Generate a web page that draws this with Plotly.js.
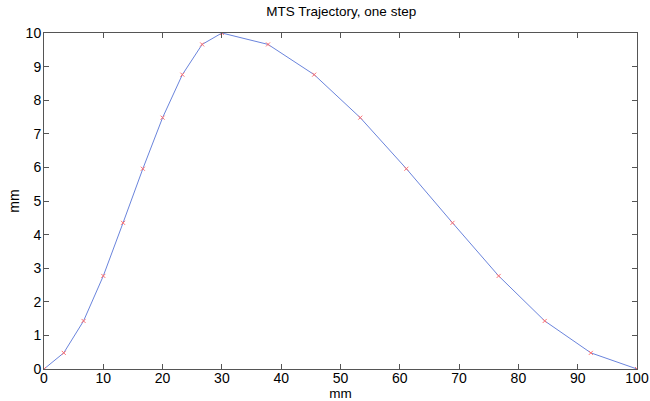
<!DOCTYPE html>
<html>
<head>
<meta charset="utf-8">
<script src="https://cdn.plot.ly/plotly-3.0.1.min.js"></script>
<style>html,body{margin:0;padding:0;background:#fff;}#chart{width:650px;height:401px;}</style>
</head>
<body>
<div id="chart"></div>
<script>
const xValues = [0, 3.33, 6.67, 10, 13.33, 16.67, 20, 23.33, 26.67, 30, 37.78, 45.56, 53.33, 61.11, 68.89, 76.67, 84.44, 92.22, 100];
const yValues = [0, 0.48, 1.43, 2.77, 4.35, 5.96, 7.48, 8.76, 9.66, 10, 9.66, 8.76, 7.48, 5.96, 4.35, 2.77, 1.43, 0.48, 0];
const xTicks = [0, 10, 20, 30, 40, 50, 60, 70, 80, 90, 100];
const yTicks = [0, 1, 2, 3, 4, 5, 6, 7, 8, 9, 10];

const fam = 'Liberation Sans, Arial, sans-serif';
const font = {family: fam, size: 14, color: '#000'};
const traces = [
  {x: xValues, y: yValues, mode: 'lines', line: {color: '#6a84dc', width: 1}, hoverinfo: 'skip', showlegend: false},
  {x: xValues, y: yValues, mode: 'markers', marker: {symbol: 'x-thin', size: 4, line: {color: '#ff7070', width: 1}}, showlegend: false}
];
const axisCommon = {
  showgrid: false, zeroline: false, showline: true, mirror: 'ticks',
  linecolor: '#555', linewidth: 1, ticks: 'inside', ticklen: 5, tickcolor: '#555', tickwidth: 1,
  tickfont: font
};
const layout = {
  width: 650, height: 401,
  margin: {l: 44, r: 13, t: 33, b: 32},
  paper_bgcolor: '#fff', plot_bgcolor: '#fff',
  title: {text: 'MTS Trajectory, one step', font: {family: fam, size: 13.5, color: '#000'}, x: 0.525, xanchor: 'center', y: 0.972, yanchor: 'middle'},
  xaxis: Object.assign({}, axisCommon, {range: [0, 100], tickvals: xTicks, ticktext: xTicks.map(String),
    ticklabelstandoff: -4,
    title: {text: 'mm', font: {family: fam, size: 13.5, color: '#000'}, standoff: 0}}),
  yaxis: Object.assign({}, axisCommon, {range: [0, 10], tickvals: yTicks, ticktext: yTicks.map(String),
    ticklabelstandoff: -1,
    title: {text: 'mm', font: font, standoff: 2}})
};
Plotly.newPlot('chart', traces, layout, {displayModeBar: false, staticPlot: true});
</script>
</body>
</html>
